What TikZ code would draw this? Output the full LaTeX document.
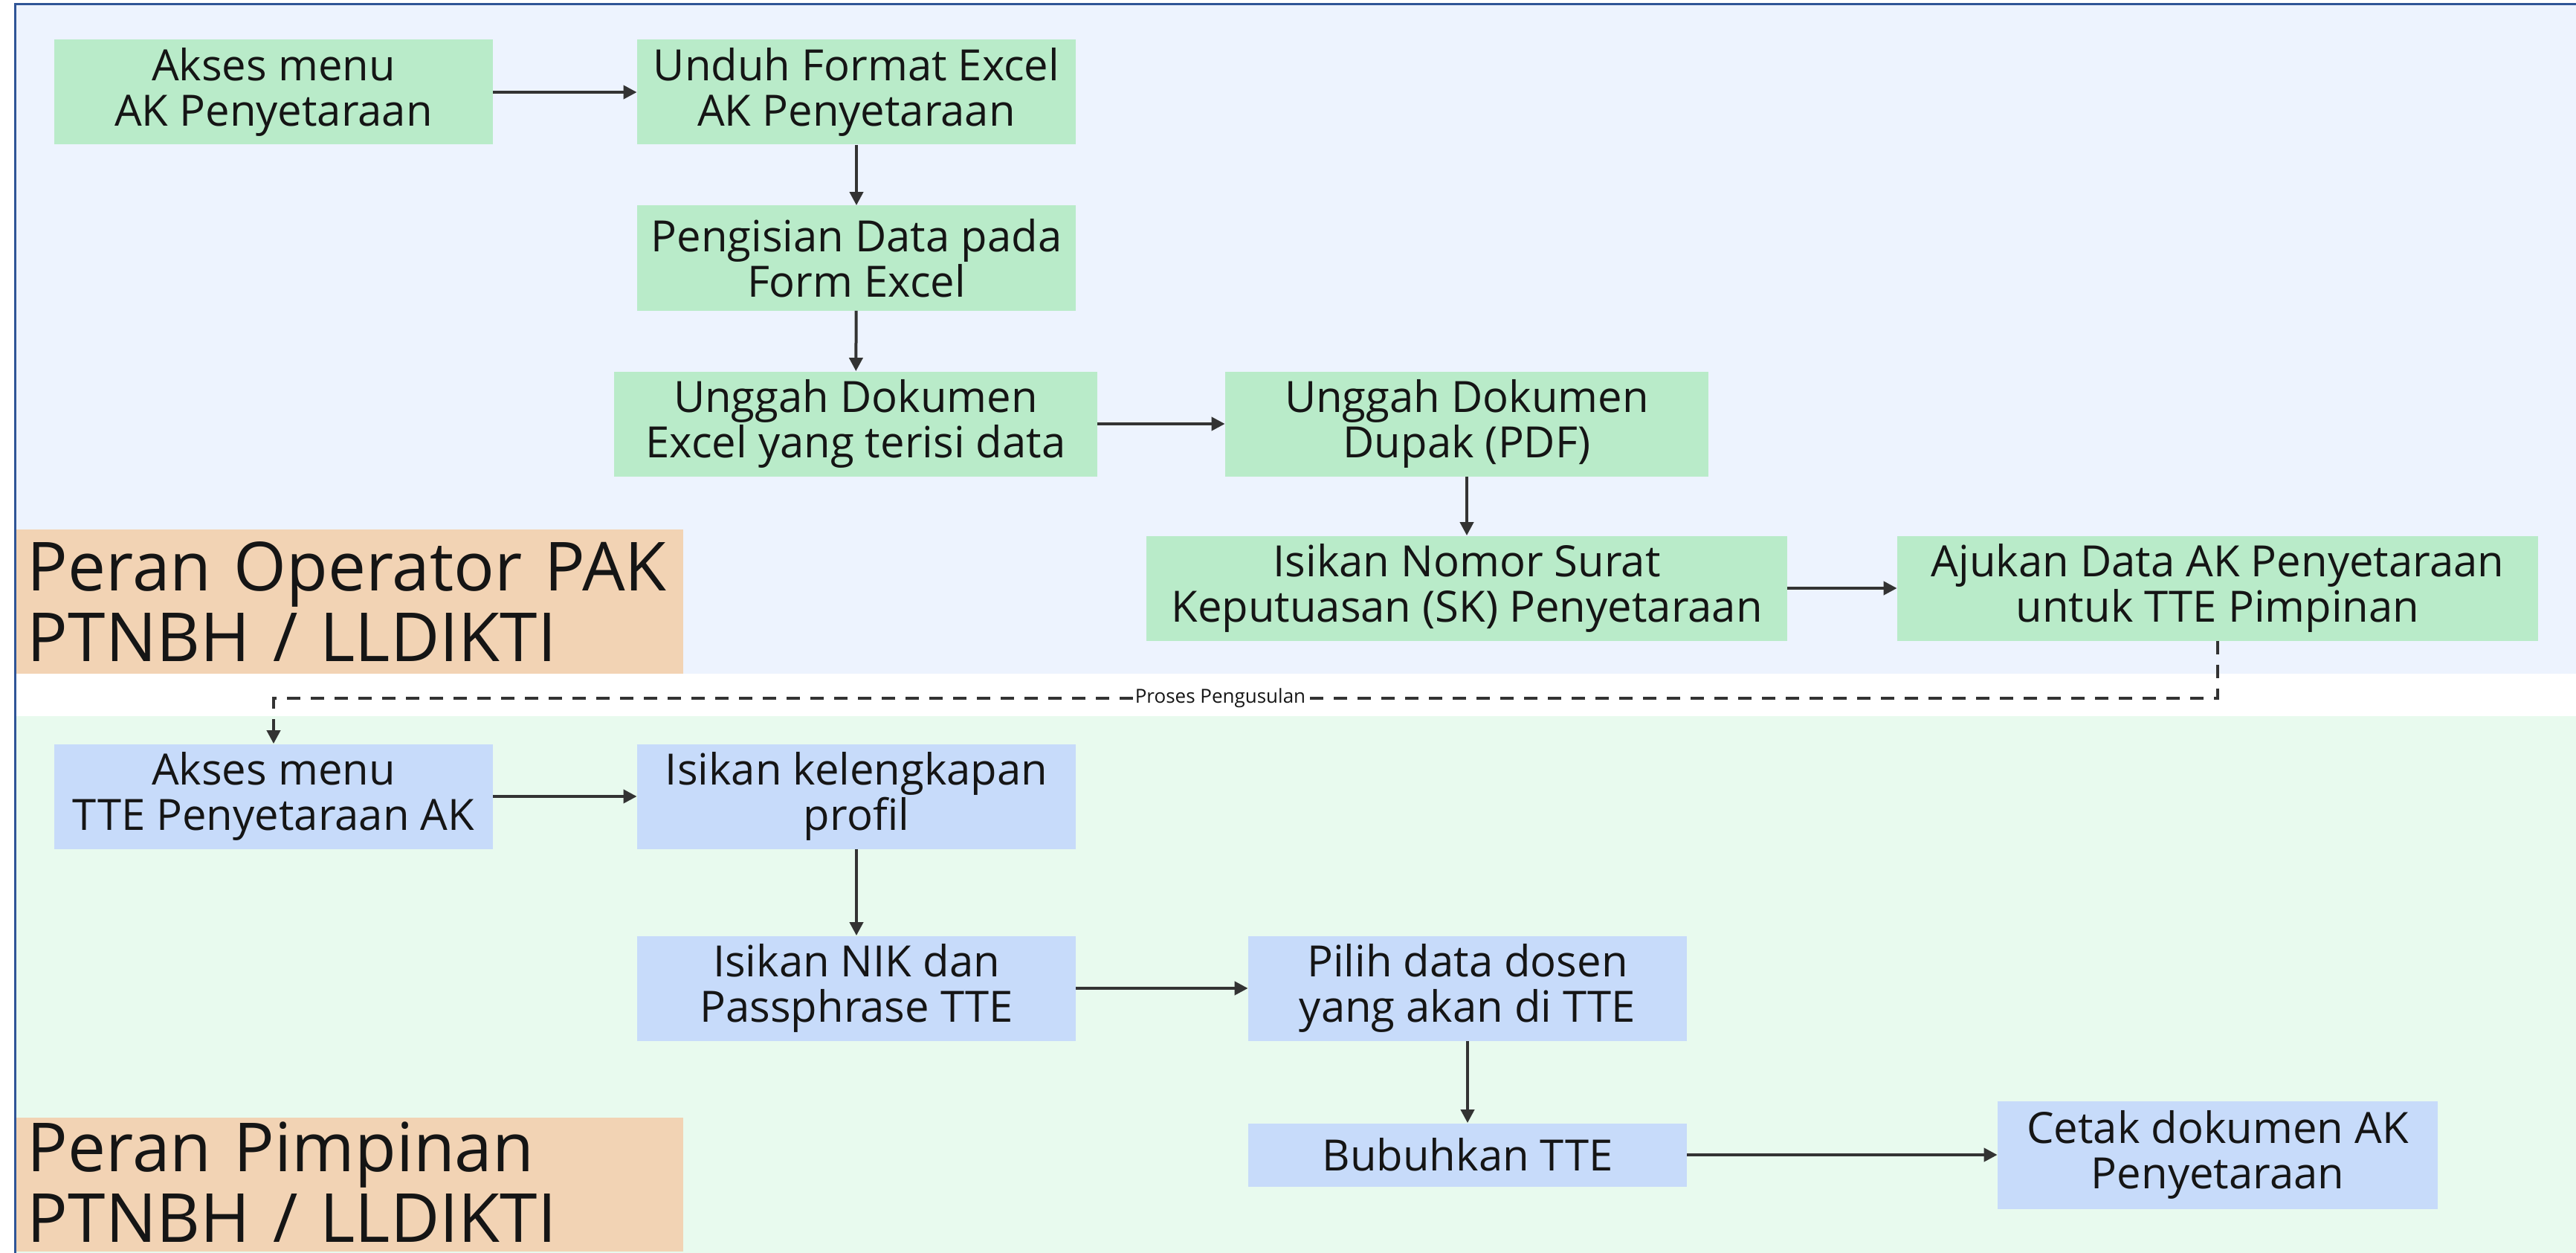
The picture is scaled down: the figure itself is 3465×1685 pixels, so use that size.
\documentclass[tikz,border=0pt]{standalone}
\usepackage{fontspec}
\setmainfont{Open Sans}
\usetikzlibrary{arrows.meta}
\definecolor{topbg}{HTML}{EDF3FE}
\definecolor{botbg}{HTML}{E8FAEE}
\definecolor{gbox}{HTML}{B9EBC9}
\definecolor{bbox}{HTML}{C7DBFA}
\definecolor{lanec}{HTML}{F2D3B4}
\definecolor{framec}{HTML}{2F5597}
\definecolor{arrc}{HTML}{333333}
\definecolor{txtc}{HTML}{151515}
\begin{document}
\begin{tikzpicture}[x=0.5pt,y=-0.5pt,
  box/.style={inner sep=0pt, align=center, text=txtc,
    font=\fontsize{29}{30.5}\selectfont, minimum width=295pt, minimum height=70.5pt},
  gbx/.style={box, fill=gbox},
  bbx/.style={box, fill=bbox},
  lanelabel/.style={fill=lanec, anchor=north west, inner sep=0pt, text=txtc,
    minimum width=448.5pt, text width=440pt, align=left,
    font=\fontsize{45.5}{47.5}\selectfont},
  flow/.style={arrc, line width=2pt, -{Triangle[length=9pt,width=9pt]}},
  dflow/.style={arrc, line width=2pt, dash pattern=on 9pt off 7pt, -{Triangle[length=9pt,width=9pt]}}]
\useasboundingbox (0,0) rectangle (3465,1685);
\fill[white] (0,0) rectangle (3465,1685);
\fill[topbg] (20,6) rectangle (3465,906);
\fill[botbg] (20,963) rectangle (3465,1685);
\draw[framec, line width=1.5pt] (20,1685) -- (20,6) -- (3465,6);

% lane labels
\node[lanelabel, minimum height=97pt] (L1) at (22,712) {\hspace*{3pt}Peran Operator PAK\\\hspace*{3pt}PTNBH / LLDIKTI};
\node[lanelabel, minimum height=90pt] (L2) at (22,1503) {\hspace*{3pt}Peran Pimpinan\\\hspace*{3pt}PTNBH / LLDIKTI\vspace*{4pt}};

% top lane
\node[gbx] (a1) at (368,124) {Akses menu\\AK Penyetaraan};
\node[gbx] (a2) at (1152,124) {Unduh Format Excel\\AK Penyetaraan};
\node[gbx] (a3) at (1152,347) {Pengisian Data pada\\Form Excel};
\node[gbx, minimum width=325pt] (a4) at (1151,570) {Unggah Dokumen\\Excel yang terisi data};
\node[gbx, minimum width=325pt] (a5) at (1973,570) {Unggah Dokumen\\Dupak (PDF)};
\node[gbx, minimum width=431pt] (a6) at (1973,791) {Isikan Nomor Surat\\Keputuasan (SK) Penyetaraan};
\node[gbx, minimum width=431pt] (a7) at (2983,791) {Ajukan Data AK Penyetaraan\\untuk TTE Pimpinan};

% bottom lane
\node[bbx] (b1) at (368,1071) {Akses menu\\TTE Penyetaraan AK};
\node[bbx] (b2) at (1152,1071) {Isikan kelengkapan\\profil};
\node[bbx] (b3) at (1152,1329) {Isikan NIK dan\\Passphrase TTE};
\node[bbx] (b4) at (1974,1329) {Pilih data dosen\\yang akan di TTE};
\node[bbx, minimum height=42.5pt] (b5) at (1974,1553) {Bubuhkan TTE};
\node[bbx, minimum width=296pt, minimum height=72.5pt] (b6) at (2983,1553) {Cetak dokumen AK\\Penyetaraan};

% connectors
\draw[flow] (a1) -- (a2);
\draw[flow] (a2) -- (a3);
\draw[flow] (a3) -- (a4);
\draw[flow] (a4) -- (a5);
\draw[flow] (a5) -- (a6);
\draw[flow] (a6) -- (a7);
\coordinate (d1) at (2983,939);
\draw[dflow] (a7.south) -- (d1) -- node[pos=0.513, fill=white, inner sep=1pt, text=txtc, font=\fontsize{13}{15}\selectfont] {Proses Pengusulan} (d1 -| b1.north) -- (b1.north);
\draw[flow] (b1) -- (b2);
\draw[flow] (b2) -- (b3);
\draw[flow] (b3) -- (b4);
\draw[flow] (b4) -- (b5);
\draw[flow] (b5) -- (b6);
\end{tikzpicture}
\end{document}
